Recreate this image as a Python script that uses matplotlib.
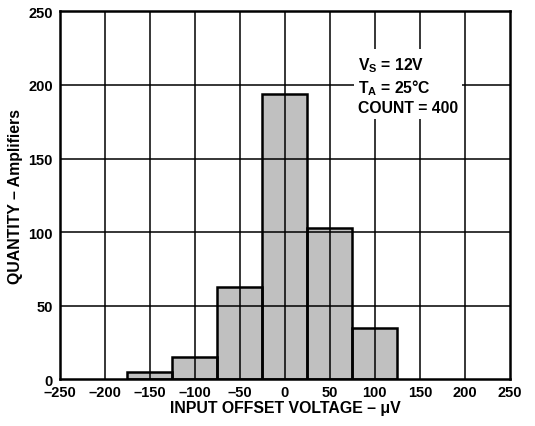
import numpy as np
import matplotlib
matplotlib.use("Agg")
import matplotlib.pyplot as plt

plt.rcParams['font.family'] = ['Liberation Sans', 'DejaVu Sans']
plt.rcParams['font.weight'] = 'bold'
plt.rcParams['mathtext.fontset'] = 'custom'
plt.rcParams['mathtext.rm'] = 'Liberation Sans'
plt.rcParams['mathtext.bf'] = 'Liberation Sans:bold'

# histogram data
bin_centers = [-150, -100, -50, 0, 50, 100]
counts = [5, 15, 63, 194, 103, 35]
bin_width = 50
xticks = [-250, -200, -150, -100, -50, 0, 50, 100, 150, 200, 250]
yticks = [0, 50, 100, 150, 200, 250]

fig = plt.figure(figsize=(5.35, 4.27), dpi=100)
ax = fig.add_axes([0.112, 0.109, 0.841, 0.862])

# gray fill first
ax.bar(bin_centers, counts, width=bin_width, color='#c0c0c0',
       linewidth=0, zorder=1)

# grid on top of the fill
for t in xticks[1:-1]:
    ax.axvline(t, color='black', linewidth=1.1, zorder=10)
for t in yticks[1:-1]:
    ax.axhline(t, color='black', linewidth=1.1, zorder=10)

# bar outlines above the grid
ax.bar(bin_centers, counts, width=bin_width, fill=False,
       edgecolor='black', linewidth=1.8, zorder=11)

ax.set_xlim(-250, 250)
ax.set_ylim(0, 250)
ax.set_xticks(xticks)
ax.set_yticks(yticks)
ax.set_xticklabels([str(t).replace('-', '\u2013') for t in xticks])
ax.tick_params(length=0, labelsize=10.5)
ax.tick_params(axis='x', pad=4)
ax.tick_params(axis='y', pad=5)
for lab in ax.get_xticklabels() + ax.get_yticklabels():
    lab.set_fontweight('bold')

for s in ax.spines.values():
    s.set_linewidth(1.8)
    s.set_zorder(12)

ax.set_xlabel('INPUT OFFSET VOLTAGE \u2013 \u03bcV', fontsize=11.4, fontweight='bold', labelpad=1)
ax.set_ylabel('QUANTITY \u2013 Amplifiers', fontsize=11.4, fontweight='bold', labelpad=4)

ax.text(0.662, 0.80, '$\\mathbf{V_S}$ = 12V\n$\\mathbf{T_A}$ = 25\u00b0C\nCOUNT = 400',
        transform=ax.transAxes, fontsize=11.3, fontweight='bold', va='center', ha='left',
        linespacing=1.25, zorder=20,
        bbox=dict(facecolor='white', edgecolor='none', pad=3))

fig.savefig('out.png', dpi=100)
